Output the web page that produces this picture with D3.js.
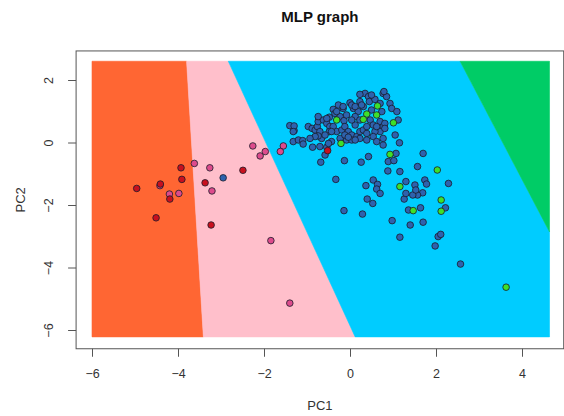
<!DOCTYPE html>
<html>
<head>
<meta charset="utf-8">
<script src="https://cdn.jsdelivr.net/npm/d3@7"></script>
<style>
	body { margin: 0; background: #fff; }
	svg { display: block; font-family: 'Liberation Sans', Arial, sans-serif; }
	.axis text { fill: #333; font-size: 12.5px; }
	.title { font-size: 15px; font-weight: bold; fill: #111; }
	.label { font-size: 13px; fill: #333; }
</style>
</head>
<body>
<div class="svg-container"></div>
<script>
var xTicks = [-6, -4, -2, 0, 2, 4];
var yTicks = [2, 0, -2, -4, -6];
var plotLimitsX = [-6.37, 4.97];
var plotLimitsY = [-6.6, 2.93];

// decision regions of the MLP, in PC units
var regionNames = ['orange', 'pink', 'blue', 'green'];
var regionColors = ['#ff6633', '#ffbfcb', '#00ccff', '#00cc66'];
var regionOrange = [[-6, 2.6], [-3.80, 2.6], [-3.41, -6.22], [-6, -6.22]];
var regionPink = [[-3.80, 2.6], [-2.83, 2.6], [0.12, -6.22], [-3.41, -6.22]];
var regionBlue = [[-2.83, 2.6], [2.56, 2.6], [4.64, -2.86], [4.64, -6.22], [0.12, -6.22]];
var regionGreen = [[2.56, 2.6], [4.64, 2.6], [4.64, -2.86]];

var blueX = [-1.40, -1.30, -1.32, -1.20, -1.10, -1.09, -0.97, -0.88, -0.81, -0.76, -0.70, -0.66, -0.74, -0.87, -0.74, -0.62, -0.54, -0.48, -0.47, -0.48,
	-0.39, -0.27, -0.16, 0.00, -0.35, -0.23, -0.14, -0.08, -0.39, -0.31, -0.19, -0.12, -0.04, 0.04, -0.08, 0.04, 0.16, 0.23, 0.31, 0.39,
	-0.43, -0.54, 0.08, 0.19, 0.31, 0.23, 0.35, 0.43, 0.45, 0.58, 0.12, 0.23, 0.47, 0.54, 0.70, 0.77, 0.70, 0.58, 0.39, 0.50,
	0.70, 0.77, 0.85, 0.93, 0.97, 1.09, 1.12, 0.79, 1.15, 1.07, 0.43, 0.04, 0.12, 0.27, 0.74, 0.81, 0.81, 0.62, 0.12, 0.04,
	0.23, 0.12, 0.77, -0.74, -0.54, -0.31, -0.16, -0.43, -0.58, -0.81, -0.93, -0.50, -0.23, -0.70, -0.58, -0.68, -0.13, -0.33, 0.26, 0.89,
	1.02, 0.88, 1.16, 1.70, 1.57, 2.29, 0.54, 0.64, 0.37, 1.30, 1.51, 1.74, 1.78, 1.69, 1.57, 1.46, 1.53, 1.26, 1.30, 1.36,
	1.64, 2.22, 0.40, 0.53, -0.14, 0.29, 0.62, 0.70, 0.98, 1.40, 1.70, 1.16, 2.05, 2.11, 1.98, 2.57, 0.23, 0.50, -0.12, -0.04,
	0.39, 0.54, 0.77, 1.05, 0.62, -2.95, -1.30, -1.32];
var blueY = [0.54, 0.38, 0.03, 0.08, 0.06, -0.05, 0.51, 0.45, 0.40, 0.51, 0.35, 0.13, 0.21, -0.15, 0.67, 0.72, 0.61, 0.81, 0.51, 0.35,
	1.06, 1.20, 1.09, 1.27, 0.93, 0.83, 0.70, 0.88, 0.51, 0.35, 0.40, 0.51, 0.35, 0.24, 0.08, 0.08, 0.19, 0.35, 0.40, 0.29,
	0.03, -0.15, 1.09, 0.99, 1.15, 1.31, 1.57, 1.47, 1.31, 1.38, 0.83, 0.72, 0.72, 0.56, 0.67, 0.51, 0.35, 0.35, 0.51, 1.04,
	1.25, 1.57, 1.47, 1.25, 1.09, 0.99, 0.72, 1.63, -0.01, -0.35, -0.45, 1.20, 1.15, 1.20, 0.99, 0.61, 0.45, 0.51, 0.56, 0.72,
	0.13, 0.08, -0.08, 0.83, 0.77, 0.99, 1.15, 0.35, 0.24, 0.19, 0.13, -0.03, 0.13, -0.13, -0.40, -0.63, -0.58, -1.18, -0.63, -0.61,
	-0.58, -0.91, -0.93, -0.35, -0.77, -1.31, -1.20, -1.34, -1.38, -1.25, -1.36, -1.20, -1.33, -1.61, -1.68, -1.68, -1.52, -1.81, -1.63, -2.16,
	-2.09, -2.09, -1.81, -1.95, -2.18, -2.29, -1.49, -1.63, -2.50, -2.64, -2.55, -3.03, -3.01, -2.94, -3.31, -3.89, 1.54, 1.52, 0.24, 0.17,
	0.08, 0.19, 0.13, 0.24, 0.03, -1.13, 0.53, 0.35];

var pinkX = [-4.42, -4.20, -3.98, -3.62, -3.26, -3.21, -1.84, -2.26, -2.09, -1.97, -1.55, -1.62, -1.40];
var pinkY = [-1.38, -1.65, -1.63, -0.67, -0.81, -1.55, -3.14, -0.11, -0.43, -0.29, -0.11, -0.29, -5.14];

var redX = [-4.96, -4.41, -4.19, -3.93, -3.91, -4.51, -3.37, -2.49, -3.23, -0.52];
var redY = [-1.47, -1.33, -1.81, -0.81, -1.18, -2.41, -1.29, -0.89, -2.64, -0.26];

var greenX = [-0.31, -0.21, 0.64, 0.39, 0.62, 0.31, 1.01, 0.93, 1.16, 2.03, 2.12, 1.47, 2.12, 3.63];
var greenY = [0.72, -0.03, 1.17, 0.91, 0.88, 0.74, 0.63, -0.38, -1.41, -0.88, -1.84, -2.18, -2.20, -4.63];

var width = 564;
var height = 416;

var xScale = d3.scaleLinear()
	.domain([-6, 4])
	.range([92, 522]);

var yScale = d3.scaleLinear()
	.domain([-6, 2])
	.range([330, 80]);

var svg = d3.select('.svg-container')
	.append('svg')
	.attr('width', width)
	.attr('height', height);

var regions = [regionOrange, regionPink, regionBlue, regionGreen];

svg.selectAll('polygon.region')
	.data(regions)
	.enter()
	.append('polygon')
	.attr('class', function(d, i) { return 'region ' + regionNames[i]; })
	.attr('points', function(d) {
		return d.map(function(p) {
			return xScale(p[0]) + ',' + yScale(p[1]);
		}).join(' ');
	})
	.attr('fill', function(d, i) { return regionColors[i]; })
	.attr('stroke', function(d, i) { return regionColors[i]; })
	.attr('stroke-width', 0.6);

function drawPoints(xs, ys, fill) {
	var pts = xs.map(function(x, i) { return { x: x, y: ys[i] }; });
	svg.append('g')
		.selectAll('circle')
		.data(pts)
		.enter()
		.append('circle')
		.attr('cx', function(d) { return xScale(d.x); })
		.attr('cy', function(d) { return yScale(d.y); })
		.attr('r', 3.3)
		.attr('fill', fill)
		.attr('stroke', '#1b1b2a')
		.attr('stroke-width', 0.8);
}

drawPoints(blueX, blueY, '#2e62ad');
drawPoints(pinkX, pinkY, '#dd4b8c');
drawPoints(redX, redY, '#c8101e');
drawPoints(greenX, greenY, '#3ee02a');

// plot frame
svg.append('rect')
	.attr('x', xScale(plotLimitsX[0]))
	.attr('y', yScale(plotLimitsY[1]))
	.attr('width', xScale(plotLimitsX[1]) - xScale(plotLimitsX[0]))
	.attr('height', yScale(plotLimitsY[0]) - yScale(plotLimitsY[1]))
	.attr('fill', 'none')
	.attr('stroke', '#555')
	.attr('stroke-width', 1);

var xAxis = d3.axisBottom()
	.scale(xScale)
	.tickValues(xTicks)
	.tickSize(8)
	.tickPadding(12)
	.tickFormat(d3.format('d'));

var yAxis = d3.axisLeft()
	.scale(yScale)
	.tickValues(yTicks)
	.tickSize(8)
	.tickFormat(d3.format('d'));

var gx = svg.append('g')
	.attr('class', 'axis')
	.attr('transform', 'translate(0, ' + yScale(plotLimitsY[0]) + ')')
	.call(xAxis);
gx.select('.domain').remove();
gx.selectAll('line').attr('stroke', '#555');

var gy = svg.append('g')
	.attr('class', 'axis')
	.attr('transform', 'translate(' + xScale(plotLimitsX[0]) + ', 0)')
	.call(yAxis);
gy.select('.domain').remove();
gy.selectAll('line').attr('stroke', '#555');
gy.selectAll('text')
	.attr('x', 0)
	.attr('dy', 0)
	.attr('text-anchor', 'middle')
	.attr('transform', 'translate(-26, 0) rotate(-90)')
	.attr('dominant-baseline', 'middle');

svg.append('text')
	.attr('class', 'title')
	.attr('x', (xScale(plotLimitsX[0]) + xScale(plotLimitsX[1])) / 2)
	.attr('y', 22)
	.attr('text-anchor', 'middle')
	.text('MLP graph');

svg.append('text')
	.attr('class', 'label')
	.attr('x', (xScale(plotLimitsX[0]) + xScale(plotLimitsX[1])) / 2)
	.attr('y', 410)
	.attr('text-anchor', 'middle')
	.text('PC1');

svg.append('text')
	.attr('class', 'label')
	.attr('transform', 'translate(22, ' + ((yScale(plotLimitsY[0]) + yScale(plotLimitsY[1])) / 2) + ') rotate(-90)')
	.attr('text-anchor', 'middle')
	.attr('dominant-baseline', 'middle')
	.text('PC2');
</script>
</body>
</html>
